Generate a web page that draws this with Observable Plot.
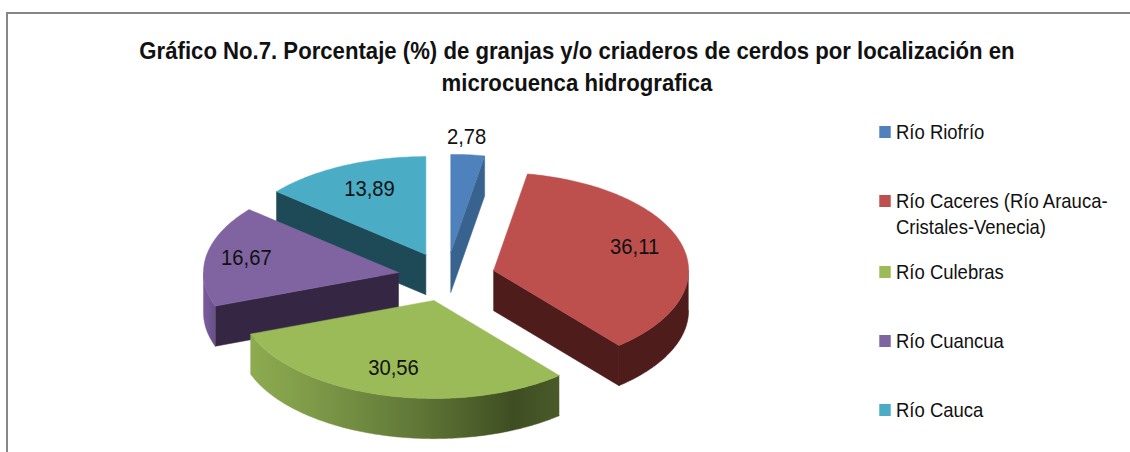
<!DOCTYPE html>
<html lang="es">
<head>
<meta charset="utf-8">
<script src="https://cdn.jsdelivr.net/npm/d3@7"></script>
<script src="https://cdn.jsdelivr.net/npm/@observablehq/plot@0.6"></script>
<style>
  html, body { margin: 0; padding: 0; background: #fff; }
  #page { position: relative; width: 1130px; height: 452px; overflow: hidden; font-family: "Liberation Sans", sans-serif; color: #111; }
  #page svg { position: absolute; left: 0; top: 0; }
  #frame { position: absolute; left: 6px; top: 12px; width: 1140px; height: 460px; border: 2px solid #868686; box-sizing: content-box; }
  #title { position: absolute; left: 77px; width: 1000px; top: 35px; text-align: center; font-weight: 700; font-size: 24px; line-height: 32px; transform: scaleX(0.923); transform-origin: 500px 0; }
  .lg { position: absolute; left: 896px; width: 256px; font-size: 21px; line-height: 26px; transform: scaleX(0.88); transform-origin: 0 0; }
  .lg i { position: absolute; left: -19.3px; top: 7px; width: 13.6px; height: 12px; }
</style>
</head>
<body>
<div id="page">
  <div id="frame"></div>
  <div id="chart"></div>
  <div id="title"></div>
  <div id="legend"></div>
</div>
<script>
const titleLines = ["Gráfico No.7. Porcentaje (%) de granjas y/o criaderos de cerdos por localización en", "microcuenca hidrografica"];
const categories = ["Río Riofrío", "Río Caceres (Río Arauca-Cristales-Venecia)", "Río Culebras", "Río Cuancua", "Río Cauca"];
const values = [2.78, 36.11, 30.56, 16.67, 13.89];
const valueLabels = ["2,78", "36,11", "30,56", "16,67", "13,89"];
const topColors = ["#4f81bd", "#bd4f4c", "#9bbb59", "#8064a2", "#4bacc6"];
const wallColors = ["#38638f", "#4e1d1b", "url(#greenWall)", "#352744", "#1e4a57"];
const arcColors = ["#38638f", "#4e1d1b", "url(#greenWall)", "url(#purpleWall)", "#1e4a57"];

// Layout of the tilted pie, in pie units (radius = 1)
const explode = 0.25, depth = 0.41;
const labelAt = [[0.103, 1.43], [0.965, 0.309], [-0.272, -0.926], [-1.026, 0.197], [-0.395, 0.901]];
const legendTops = [119, 188, 259, 328, 397];
const drawOrder = [4, 3, 0, 1, 2];

const total = d3.sum(values);
const rad = (d) => (d * Math.PI) / 180;
let acc = 0;
const slices = values.map((v, i) => {
  const a0 = (acc / total) * 360;
  acc += v;
  const a1 = (acc / total) * 360;
  const mid = rad((a0 + a1) / 2);
  return { i, a0, a1, ox: explode * Math.sin(mid), oy: explode * Math.cos(mid) };
});
const rim = (s, a, drop = 0) => ({ x: s.ox + Math.sin(rad(a)), y: s.oy + Math.cos(rad(a)) - drop });
const apex = (s, drop = 0) => ({ x: s.ox, y: s.oy - drop });
const arcPts = (s, from, to, drop = 0) => {
  const n = Math.max(1, Math.ceil(to - from));
  return d3.range(n + 1).map((k) => rim(s, from + ((to - from) * k) / n, drop));
};
const shape = (points, fill) => Plot.line(points, { x: "x", y: "y", fill, stroke: fill, strokeWidth: 0.5, curve: "linear" });

const marks = [];
for (const i of drawOrder) {
  const s = slices[i];
  // radial wall facing the viewer
  const walls = [];
  if (Math.sin(rad(s.a0)) < -1e-6) walls.push(s.a0);
  if (Math.sin(rad(s.a1)) > 1e-6) walls.push(s.a1);
  for (const a of walls) {
    marks.push(shape([apex(s), rim(s, a), rim(s, a, depth), apex(s, depth), apex(s)], wallColors[i]));
  }
  // curved wall on the near half of the pie
  const from = Math.max(s.a0, 90), to = Math.min(s.a1, 270);
  if (to > from) {
    marks.push(shape([...arcPts(s, from, to), ...arcPts(s, from, to, depth).reverse()], arcColors[i]));
  }
  // top face
  marks.push(shape([apex(s), ...arcPts(s, s.a0, s.a1), apex(s)], topColors[i]));
}

const defs = () => {
  const g = document.createElementNS("http://www.w3.org/2000/svg", "g");
  g.innerHTML = `<defs>
    <linearGradient id="greenWall" x1="0" x2="1" y1="0" y2="0">
      <stop offset="0" stop-color="#8dab50"/><stop offset="0.2" stop-color="#7e9a48"/>
      <stop offset="0.55" stop-color="#5f7636"/><stop offset="0.85" stop-color="#3f4e22"/>
      <stop offset="1" stop-color="#4a5a29"/>
    </linearGradient>
    <linearGradient id="purpleWall" x1="0" x2="1" y1="0" y2="0">
      <stop offset="0" stop-color="#7a5d9c"/><stop offset="1" stop-color="#67508a"/>
    </linearGradient></defs>`;
  return g;
};

const condense = (index, scales, channels, dimensions, context, next) => {
  const g = next(index, scales, channels, dimensions, context);
  g.querySelectorAll("text").forEach((t) => {
    const tr = t.getAttribute("transform") || "";
    t.setAttribute("transform", tr + " scale(0.92,1)");
  });
  return g;
};

const chart = Plot.plot({
  width: 1130,
  height: 452,
  margin: 0,
  style: { background: "transparent", overflow: "visible" },
  x: { domain: [-1, 1], range: [251, 641], axis: null },
  y: { domain: [-1, 1], range: [374.3, 178.3], axis: null },
  marks: [
    defs,
    ...marks,
    Plot.text(valueLabels, {
      x: (d, i) => labelAt[i][0],
      y: (d, i) => labelAt[i][1],
      text: (d) => d,
      fontSize: 22,
      fontFamily: '"Liberation Sans", sans-serif',
      fill: "#111",
      render: condense
    })
  ]
});
document.getElementById("chart").append(chart);

document.getElementById("title").innerHTML = titleLines.join("<br>");
const legend = document.getElementById("legend");
categories.forEach((c, i) => {
  const row = document.createElement("div");
  row.className = "lg";
  row.style.top = legendTops[i] + "px";
  const sw = document.createElement("i");
  sw.style.background = topColors[i];
  row.append(sw, c);
  legend.append(row);
});
</script>
</body>
</html>
